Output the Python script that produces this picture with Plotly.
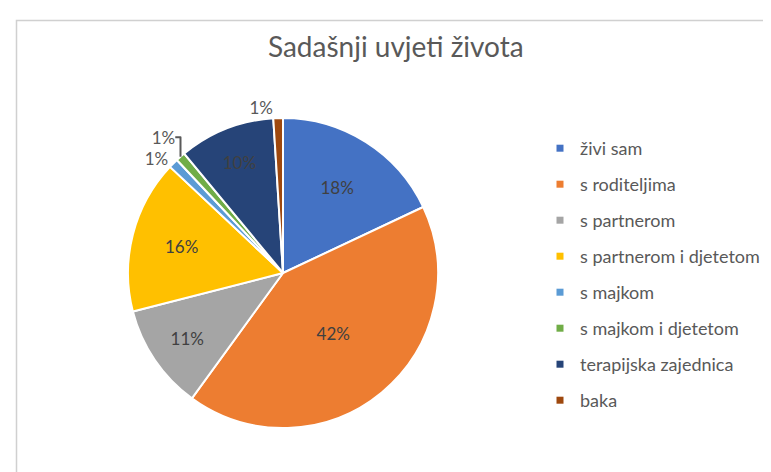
import plotly.graph_objects as go

categories = ["živi sam", "s roditeljima", "s partnerom", "s partnerom i djetetom",
              "s majkom", "s majkom i djetetom", "terapijska zajednica", "baka"]
values = [18, 42, 11, 16, 1, 1, 10, 1]
colors = ["#4472C4", "#ED7D31", "#A5A5A5", "#FFC000", "#5B9BD5", "#70AD47", "#264478", "#9E480E"]
title_text = "Sadašnji uvjeti života"

W, H = 771, 472
FONT = "Lato, 'Open Sans', sans-serif"

fig = go.Figure()

cx, cy, r = 275, 265, 155
fig.add_trace(go.Pie(
    labels=categories,
    values=values,
    sort=False,
    direction="clockwise",
    rotation=0,
    marker=dict(colors=colors, line=dict(color="white", width=2)),
    texttemplate="%{value}%",
    textposition="auto",
    insidetextfont=dict(color="#404040", size=17, family=FONT),
    outsidetextfont=dict(color="#595959", size=17, family=FONT),
    insidetextorientation="horizontal",
    domain=dict(x=[(cx - r) / W, (cx + r) / W], y=[1 - (cy + r) / H, 1 - (cy - r) / H]),
    showlegend=False,
    hoverinfo="label+percent",
))

# Legend entries (one per category) so spacing can match the reference
for name, col in zip(categories, colors):
    fig.add_trace(go.Scatter(
        x=[None], y=[None], mode="markers", name=name,
        marker=dict(symbol="square", size=7, color=col),
        legendgroup=name, showlegend=True,
    ))

fig.update_layout(
    width=W, height=H,
    margin=dict(l=0, r=0, t=0, b=0),
    paper_bgcolor="white",
    plot_bgcolor="white",
    title=dict(text=title_text, x=0.503, y=1 - 39 / H, xanchor="center", yanchor="middle",
               font=dict(size=28, color="#595959", family=FONT)),
    xaxis=dict(visible=False),
    yaxis=dict(visible=False),
    legend=dict(x=532 / W, y=1 - 122 / H, xanchor="left", yanchor="top",
                font=dict(size=18, color="#595959", family=FONT),
                tracegroupgap=9.6, itemwidth=30, bgcolor="rgba(0,0,0,0)"),
    shapes=[dict(type="rect", xref="paper", yref="paper",
                 x0=8.5 / W, x1=1.2, y0=-0.2, y1=1 - 12.5 / H,
                 line=dict(color="#D0D0D0", width=1.5), layer="below")],
)

fig.write_html("out.html")
